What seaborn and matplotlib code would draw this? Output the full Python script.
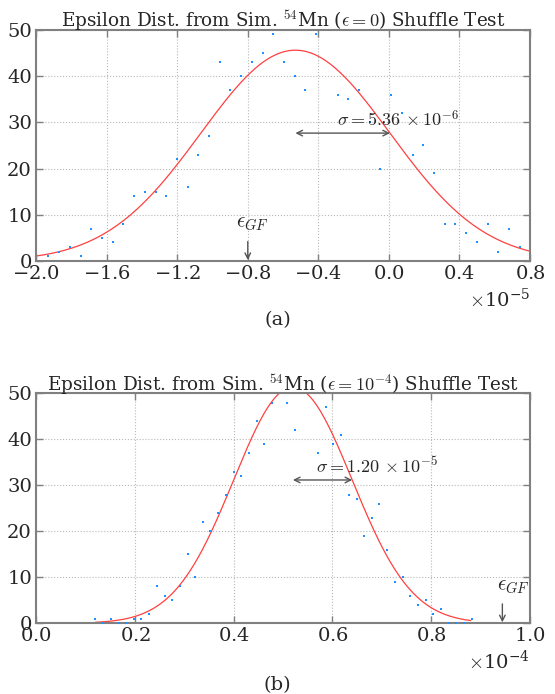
import numpy as np
import seaborn as sns
import matplotlib.pyplot as plt
from matplotlib.ticker import MultipleLocator

# panel (a): eps = 0, x in units of 1e-5
top_x = [-1.930, -1.869, -1.809, -1.748, -1.687, -1.627, -1.566, -1.505, -1.444,
         -1.384, -1.323, -1.262, -1.202, -1.141, -1.080, -1.020, -0.959, -0.898,
         -0.837, -0.777, -0.716, -0.655, -0.595, -0.534, -0.473, -0.413, -0.352,
         -0.291, -0.230, -0.170, -0.109, -0.048, 0.012, 0.073, 0.134, 0.195,
         0.255, 0.316, 0.377, 0.437, 0.498, 0.559, 0.619, 0.680, 0.741]
top_counts = [1, 2, 3, 1, 7, 5, 4, 8, 14, 15, 15, 14, 22, 16, 23, 27, 43, 37, 40,
              43, 45, 49, 43, 40, 37, 49, 52, 36, 35, 37, 30, 20, 36, 32, 23, 25,
              19, 8, 8, 6, 4, 8, 2, 7, 3]
top_fit = dict(amp=45.6, mu=-0.53, sigma=0.536)   # units 1e-5
top_eps_gf = -0.80

# panel (b): eps = 1e-4, x in units of 1e-4
bot_x = [0.120, 0.136, 0.151, 0.167, 0.182, 0.198, 0.213, 0.229, 0.244, 0.260,
         0.276, 0.291, 0.307, 0.322, 0.338, 0.353, 0.369, 0.384, 0.400, 0.415,
         0.431, 0.447, 0.462, 0.478, 0.493, 0.509, 0.524, 0.540, 0.555, 0.571,
         0.587, 0.602, 0.618, 0.633, 0.649, 0.664, 0.680, 0.695, 0.711, 0.726,
         0.742, 0.758, 0.773, 0.789, 0.804, 0.820, 0.835, 0.851, 0.866, 0.882]
bot_counts = [1, 0, 1, 0, 0, 1, 1, 2, 8, 6, 5, 8, 15, 10, 22, 20, 24, 28, 33, 32,
              37, 44, 39, 48, 52, 48, 42, 54, 51, 37, 47, 39, 41, 28, 27, 19, 23,
              26, 16, 9, 10, 6, 4, 5, 2, 3, 0, 0, 0, 1]
bot_fit = dict(amp=51.4, mu=0.52, sigma=0.12)     # units 1e-4
bot_eps_gf = 0.944

sns.set_style("whitegrid", {"grid.linestyle": ":", "grid.color": "#b8b8b8",
                            "axes.edgecolor": "#808080"})
plt.rcParams['font.family'] = ['DejaVu Serif']
plt.rcParams['mathtext.fontset'] = 'cm'

DOT = "#1e90ff"
FIT = "#ff4040"
FS = 14


def gauss(x, amp, mu, sigma):
    return amp * np.exp(-0.5 * ((x - mu) / sigma) ** 2)


def panel(ax, xs, counts, fit, expo, xlim, xstep, curve_rng, title,
          sig_txt, sig_pos, eps_x, eps_txt_x):
    scale = 10.0 ** expo
    x = np.array(xs) * scale
    sns.scatterplot(x=x, y=counts, ax=ax, color=DOT, s=4, marker='s',
                    linewidth=0, zorder=3)
    xc = np.linspace(curve_rng[0], curve_rng[1], 300)
    yc = gauss(xc, fit['amp'], fit['mu'], fit['sigma'])
    sns.lineplot(x=xc * scale, y=yc, ax=ax, color=FIT, lw=0.9, zorder=2)

    ax.set_xlim(xlim[0] * scale, xlim[1] * scale)
    ax.set_ylim(0, 50)
    ax.xaxis.set_major_locator(MultipleLocator(xstep * scale))
    ax.yaxis.set_major_locator(MultipleLocator(10))
    ax.ticklabel_format(axis='x', style='sci', scilimits=(expo, expo),
                        useMathText=True)
    ax.tick_params(direction='in', length=5, width=1, color='#808080',
                   top=True, right=True, bottom=True, left=True,
                   labelsize=FS, pad=3)
    ax.xaxis.get_offset_text().set_fontsize(FS)
    for sp in ax.spines.values():
        sp.set_linewidth(1.5)
        sp.set_color('#808080')
    ax.set_xlabel('')
    ax.set_ylabel('')
    ax.set_title(title, fontsize=13.2, pad=2)

    # sigma arrow
    mu, sg = fit['mu'], fit['sigma']
    ya = fit['amp'] * np.exp(-0.5)
    ax.annotate('', xy=(mu * scale, ya), xytext=((mu + sg) * scale, ya),
                arrowprops=dict(arrowstyle='<->', color='#555555', lw=1,
                                shrinkA=0, shrinkB=0))
    ax.text(sig_pos[0] * scale, sig_pos[1], sig_txt, ha='center', va='bottom',
            fontsize=13)

    # eps_GF marker
    ax.annotate('', xy=(eps_x * scale, 0.2), xytext=(eps_x * scale, 4.2),
                arrowprops=dict(arrowstyle='->', color='#555555', lw=1,
                                shrinkA=0, shrinkB=0))
    ax.text(eps_txt_x * scale, 6.0, r'$\epsilon_{GF}$', ha='center',
            va='bottom', fontsize=15)


fig = plt.figure(figsize=(5.55, 6.94), dpi=100)
ax1 = fig.add_axes([0.065, 0.624, 0.890, 0.333])
ax2 = fig.add_axes([0.065, 0.102, 0.890, 0.331])

panel(ax1, top_x, top_counts, top_fit, -5, (-2.0, 0.8), 0.4, (-2.0, 0.8),
      r'Epsilon Dist. from Sim. $^{54}$Mn ($\epsilon = 0$) Shuffle Test',
      r'$\sigma = 5.36\,\times 10^{-6}$', (0.05, 28.3), top_eps_gf, -0.775)
panel(ax2, bot_x, bot_counts, bot_fit, -4, (0.0, 1.0), 0.2, (0.12, 0.88),
      r'Epsilon Dist. from Sim. $^{54}$Mn ($\epsilon = 10^{-4}$) Shuffle Test',
      r'$\sigma = 1.20\,\times 10^{-5}$', (0.69, 31.9), bot_eps_gf, 0.966)

fig.text(0.5, 1 - 320 / 694, '(a)', ha='center', va='center', fontsize=FS)
fig.text(0.5, 1 - 685 / 694, '(b)', ha='center', va='center', fontsize=FS)

plt.savefig('out.png', dpi=100)
